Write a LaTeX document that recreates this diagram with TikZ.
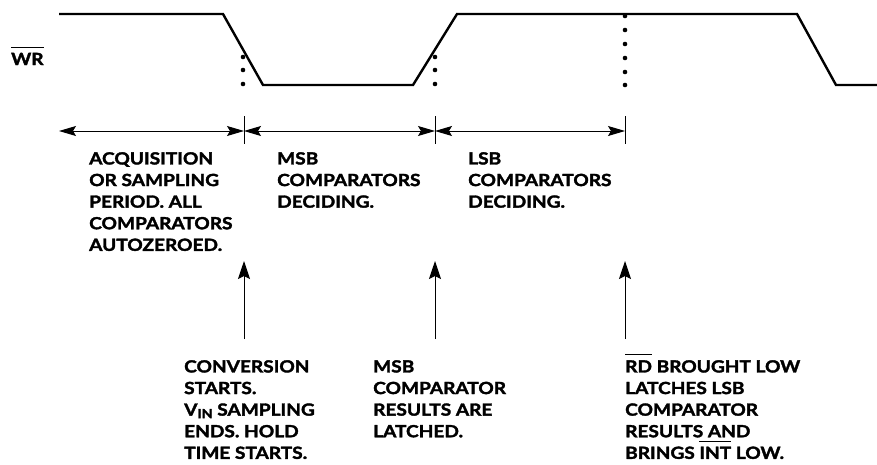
\documentclass[tikz,border=0pt]{standalone}
\usepackage{fontspec}
\setmainfont{Lato}[FakeStretch=1.14, BoldFeatures={FakeBold=2}]
\usetikzlibrary{arrows.meta}
\newsavebox\ovbox
\newcommand\ovbar[1]{\sbox\ovbox{#1}\smash{\rlap{\raisebox{17pt}{\rule{\wd\ovbox}{1.2pt}}}}\usebox\ovbox}
\tikzset{
  wave/.style={line width=2.4pt, line join=miter},
  tick/.style={line width=1pt},
  dur/.style={line width=1pt, {Stealth[length=17pt,width=10pt,inset=3pt]}-{Stealth[length=17pt,width=10pt,inset=3pt]}},
  uparr/.style={line width=1pt, -{Stealth[length=18pt,width=12pt,inset=3pt]}},
  dotmark/.style={fill=black, draw=none},
  lbl/.style={anchor=north west, inner sep=0pt, align=left, font=\fontsize{16.75}{21.6}\selectfont\bfseries},
}
\begin{document}
\begin{tikzpicture}[x=1pt,y=-1pt]
\useasboundingbox (0,0) rectangle (877,464);
% signal label
\node[anchor=base west, inner sep=0pt, font=\fontsize{16.75}{20}\selectfont\bfseries] (wr) at (11,65) {\ovbar{WR}};
% waveform
\coordinate (w0) at (59,14);
\coordinate (w1) at (223,14);
\coordinate (w2) at (263,85);
\coordinate (w3) at (413,85);
\coordinate (w4) at (457,14);
\coordinate (w5) at (797,14);
\coordinate (w6) at (836,85);
\coordinate (w7) at (877,85);
\draw[wave] (w0) -- (w1) -- (w2) -- (w3) -- (w4) -- (w5) -- (w6) -- (w7);
% dots
\foreach \y in {57,70,84} {
  \fill[dotmark] (243,\y) circle (2.3pt);
  \fill[dotmark] (435,\y) circle (2.3pt);
}
\foreach \y in {16,30,44,58,72,85} {
  \fill[dotmark] (625,\y) circle (2.3pt);
}
% ticks
\coordinate (a0) at (59,131);
\coordinate (a1) at (244,131);
\coordinate (a2) at (435,131);
\coordinate (a3) at (625,131);
\coordinate (t1a) at (244,116); \coordinate (t1b) at (244,144);
\coordinate (t2a) at (435,116); \coordinate (t2b) at (435,144);
\coordinate (t3a) at (625,116); \coordinate (t3b) at (625,144);
\draw[tick] (t1a) -- (t1b);
\draw[tick] (t2a) -- (t2b);
\draw[tick] (t3a) -- (t3b);
\draw[dur] (a0) -- (a1);
\draw[dur] (a1) -- (a2);
\draw[dur] (a2) -- (a3);
% upper texts
\node[lbl] (acq) at (89,152) {ACQUISITION\\OR SAMPLING\\PERIOD. ALL\\COMPARATORS\\AUTOZEROED.};
\node[lbl] (msbd) at (277,152) {MSB\\COMPARATORS\\DECIDING.};
\node[lbl] (lsbd) at (468,152) {LSB\\COMPARATORS\\DECIDING.};
% up arrows
\coordinate (u1a) at (244,339); \coordinate (u1b) at (244,261);
\coordinate (u2a) at (435,339); \coordinate (u2b) at (435,261);
\coordinate (u3a) at (625,339); \coordinate (u3b) at (625,261);
\draw[uparr] (u1a) -- (u1b);
\draw[uparr] (u2a) -- (u2b);
\draw[uparr] (u3a) -- (u3b);
% lower texts
\node[lbl] (conv) at (184,360) {CONVERSION\\STARTS.\\V\raisebox{-2.5pt}{\fontsize{12.5}{12}\selectfont IN} SAMPLING\\ENDS. HOLD\\TIME STARTS.};
\node[lbl] (msbl) at (373,360) {MSB\\COMPARATOR\\RESULTS ARE\\LATCHED.};
\node[lbl] (rdl) at (625,360) {\ovbar{RD} BROUGHT LOW\\LATCHES LSB\\COMPARATOR\\RESULTS AND\\BRINGS \ovbar{INT} LOW.};
\end{tikzpicture}
\end{document}
